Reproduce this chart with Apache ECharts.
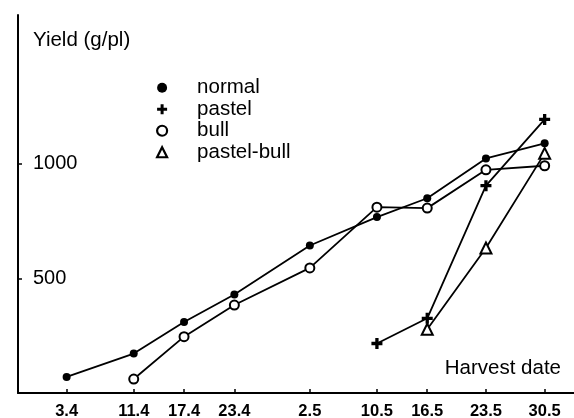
<!DOCTYPE html>
<html>
<head>
<meta charset="utf-8">
<script src="https://cdn.jsdelivr.net/npm/echarts@6/dist/echarts.min.js"></script>
<style>
  html, body { margin: 0; padding: 0; background: #fff; }
  #chart { width: 574px; height: 418px; }
</style>
</head>
<body>
<div id="chart"></div>
<script>
// harvest dates (day.month) and yield per plant (g/pl)
const dates = ['3.4', '11.4', '17.4', '23.4', '2.5', '10.5', '16.5', '23.5', '30.5'];
const normal = [70, 172, 310, 430, 644, 768, 850, 1024, 1090];
const pastel = [null, null, null, null, null, 216, 326, 905, 1194];
const bull = [null, 61, 246, 384, 546, 811, 807, 974, 992];
const pastelBull = [null, null, null, null, null, null, 278, 633, 1046];
const yTicks = [500, 1000];

// day.month -> day of year, so dates sit on a time scale
const monthStart = [0, 0, 31, 59, 90, 120, 151];
const dayOfYear = (s) => {
  const [d, m] = s.split('.').map(Number);
  return monthStart[m] + d;
};
const dateDays = dates.map(dayOfYear);
const labelOf = {};
dates.forEach((d, i) => { labelOf[dateDays[i]] = d; });

const toPoints = (vals) => dates
  .map((d, i) => [dateDays[i], vals[i]])
  .filter(p => p[1] != null);

const plusPath = 'path://M3.5,0H6.5V3.5H10V6.5H6.5V10H3.5V6.5H0V3.5H3.5Z';
const font = 'Liberation Sans, Arial, sans-serif';

const chart = echarts.init(document.getElementById('chart'));
const lineStyle = { color: '#000', width: 1.8 };
const option = {
  animation: false,
  backgroundColor: '#fff',
  textStyle: { fontFamily: font, color: '#000' },
  grid: { left: 18, right: 0, top: 15, bottom: 25, outerBoundsMode: 'none', containLabel: false },
  graphic: [{
    type: 'text',
    x: 561,
    y: 368,
    style: { text: 'Harvest date', fontSize: 20.5, fontFamily: font, fill: '#000', align: 'right', verticalAlign: 'middle' }
  }],
  legend: {
    orient: 'vertical',
    left: 151,
    top: 72,
    itemWidth: 10,
    itemHeight: 10,
    itemGap: 0,
    selectedMode: false,
    textStyle: { fontSize: 20.5, color: '#000', fontFamily: font, lineHeight: 21.5, padding: [0, 0, 0, 25] },
    data: [
      { name: 'normal', icon: 'circle', itemStyle: { color: '#000', borderWidth: 0 } },
      { name: 'pastel', icon: plusPath, itemStyle: { color: '#000', borderWidth: 0 } },
      { name: 'bull', icon: 'circle', itemStyle: { color: '#fff', borderColor: '#000', borderWidth: 2.2 } },
      { name: 'pastel-bull', icon: 'triangle', itemStyle: { color: '#fff', borderColor: '#000', borderWidth: 2.2 } }
    ]
  },
  xAxis: {
    type: 'value',
    min: 87.2,
    max: 153.5,
    axisLine: { lineStyle: { color: '#000', width: 2 } },
    axisTick: { inside: true, length: 4, customValues: dateDays, lineStyle: { color: '#000', width: 1.5 } },
    axisLabel: {
      customValues: dateDays,
      formatter: (v) => labelOf[v] || '',
      fontSize: 16.5,
      fontWeight: 'bold',
      color: '#000',
      margin: 10
    },
    splitLine: { show: false }
  },
  yAxis: {
    type: 'value',
    min: 0,
    max: 1650,
    name: 'Yield (g/pl)',
    nameLocation: 'end',
    nameGap: -25,
    nameTextStyle: { fontSize: 20.5, color: '#000', align: 'left', verticalAlign: 'middle', padding: [0, 0, 0, 15] },
    axisLine: { show: true, lineStyle: { color: '#000', width: 2 } },
    axisTick: { show: true, inside: true, length: 4, customValues: yTicks, lineStyle: { color: '#000', width: 1.5 } },
    axisLabel: { inside: true, customValues: yTicks, formatter: (v) => String(v), fontSize: 20, color: '#000', margin: 15 },
    splitLine: { show: false }
  },
  series: [
    {
      name: 'normal', type: 'line', data: toPoints(normal),
      symbol: 'circle', symbolSize: 8,
      itemStyle: { color: '#000' }, lineStyle
    },
    {
      name: 'pastel', type: 'line', data: toPoints(pastel),
      symbol: plusPath, symbolSize: 11,
      itemStyle: { color: '#000' }, lineStyle
    },
    {
      name: 'bull', type: 'line', data: toPoints(bull),
      symbol: 'emptyCircle', symbolSize: 9,
      itemStyle: { color: '#000', borderWidth: 2.2 }, lineStyle
    },
    {
      name: 'pastel-bull', type: 'line', data: toPoints(pastelBull),
      symbol: 'emptyTriangle', symbolSize: 11,
      itemStyle: { color: '#000', borderWidth: 2.2 }, lineStyle
    }
  ]
};
chart.setOption(option);
</script>
</body>
</html>
